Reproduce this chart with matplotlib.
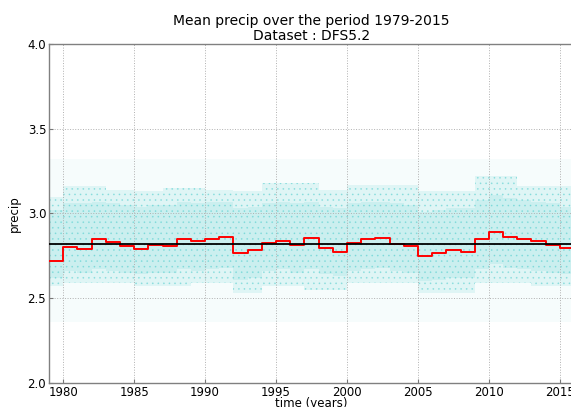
import numpy as np
import matplotlib
matplotlib.use('Agg')
import matplotlib.pyplot as plt

# Annual mean precip (red steps), one value per year 1979-2015
years = np.arange(1979, 2016)
annual_mean = [2.72, 2.80, 2.79, 2.847, 2.83, 2.807, 2.79, 2.815, 2.81, 2.85,
               2.835, 2.85, 2.862, 2.764, 2.783, 2.827, 2.835, 2.815, 2.855, 2.795,
               2.772, 2.823, 2.85, 2.858, 2.819, 2.807, 2.748, 2.768, 2.783, 2.772,
               2.85, 2.89, 2.862, 2.85, 2.839, 2.815, 2.795]
period_mean = 2.817

# Spread of the daily values around each year (main cloud and sparse tails)
cloud_hi = [3.10, 3.16, 3.16, 3.16, 3.14, 3.14, 3.13, 3.13, 3.15, 3.15,
            3.15, 3.14, 3.14, 3.13, 3.13, 3.18, 3.18, 3.18, 3.18, 3.14,
            3.14, 3.17, 3.17, 3.17, 3.17, 3.17, 3.13, 3.13, 3.13, 3.13,
            3.22, 3.22, 3.22, 3.16, 3.16, 3.16, 3.16]
cloud_lo = [2.57, 2.59, 2.59, 2.59, 2.59, 2.59, 2.57, 2.57, 2.57, 2.57,
            2.59, 2.59, 2.59, 2.53, 2.53, 2.57, 2.57, 2.57, 2.55, 2.55,
            2.55, 2.59, 2.59, 2.59, 2.59, 2.59, 2.53, 2.53, 2.53, 2.53,
            2.59, 2.59, 2.59, 2.59, 2.57, 2.57, 2.57]
core_hi = [3.02, 3.06, 3.06, 3.07, 3.06, 3.05, 3.04, 3.05, 3.05, 3.07,
           3.06, 3.07, 3.07, 3.03, 3.04, 3.06, 3.07, 3.06, 3.07, 3.04,
           3.03, 3.06, 3.07, 3.07, 3.06, 3.05, 3.01, 3.02, 3.03, 3.03,
           3.08, 3.11, 3.09, 3.08, 3.07, 3.06, 3.04]
core_lo = [2.62, 2.66, 2.65, 2.67, 2.66, 2.65, 2.64, 2.65, 2.65, 2.67,
           2.66, 2.67, 2.68, 2.61, 2.62, 2.66, 2.67, 2.65, 2.67, 2.64,
           2.63, 2.66, 2.67, 2.68, 2.66, 2.65, 2.60, 2.61, 2.62, 2.62,
           2.67, 2.70, 2.68, 2.67, 2.66, 2.65, 2.64]
tail_hi = 3.32
tail_lo = 2.36

xticks = [1980, 1985, 1990, 1995, 2000, 2005, 2010, 2015]
yticks = [2.0, 2.5, 3.0, 3.5, 4.0]

plt.rcParams['hatch.linewidth'] = 0.5

fig = plt.figure(figsize=(5.71, 4.07), dpi=100)
ax = fig.add_axes([0.0858, 0.059, 0.9195, 0.833])

# repeat last value so the steps reach the end of 2015
x_edges = np.append(years, 2016)
def ext(v):
    return np.append(v, v[-1])

# daily values drawn as a dotted cyan cloud: sparse tails, main body, dense core
ax.fill_between([1979, 2016], tail_lo, tail_hi, facecolor='#00c0c0', alpha=0.035, lw=0)
ax.fill_between(x_edges, ext(cloud_lo), ext(cloud_hi), step='post',
                facecolor='#40caca', alpha=0.12, lw=0)
ax.fill_between(x_edges, ext(cloud_lo), ext(cloud_hi), step='post',
                facecolor='none', edgecolor='#30c4c4', hatch='...', lw=0, alpha=0.35)
ax.fill_between(x_edges, ext(core_lo), ext(core_hi), step='post',
                facecolor='#40caca', alpha=0.12, lw=0)

ax.step(x_edges, ext(annual_mean), where='post', color='red', lw=1.4, zorder=4)
ax.axhline(period_mean, color='black', lw=1.3, zorder=5)

ax.set_xlim(1979, 2016)
ax.set_ylim(2.0, 4.0)
ax.set_xticks(xticks)
ax.set_yticks(yticks)
ax.set_yticklabels(['%.1f' % t for t in yticks])
ax.tick_params(direction='in', length=3, labelsize=8.5, color='#777777', pad=2)
ax.grid(True, linestyle=':', color='#b0b0b0', linewidth=0.7)
for s in ax.spines.values():
    s.set_color('#808080')
    s.set_linewidth(1.0)

ax.set_title('Mean precip over the period 1979-2015\nDataset : DFS5.2',
             fontsize=10, pad=3, linespacing=1.05)
ax.set_xlabel('time (years)', fontsize=8.5, labelpad=-1)
ax.set_ylabel('precip', fontsize=8.5, labelpad=5)

fig.savefig('out.png', dpi=100)
